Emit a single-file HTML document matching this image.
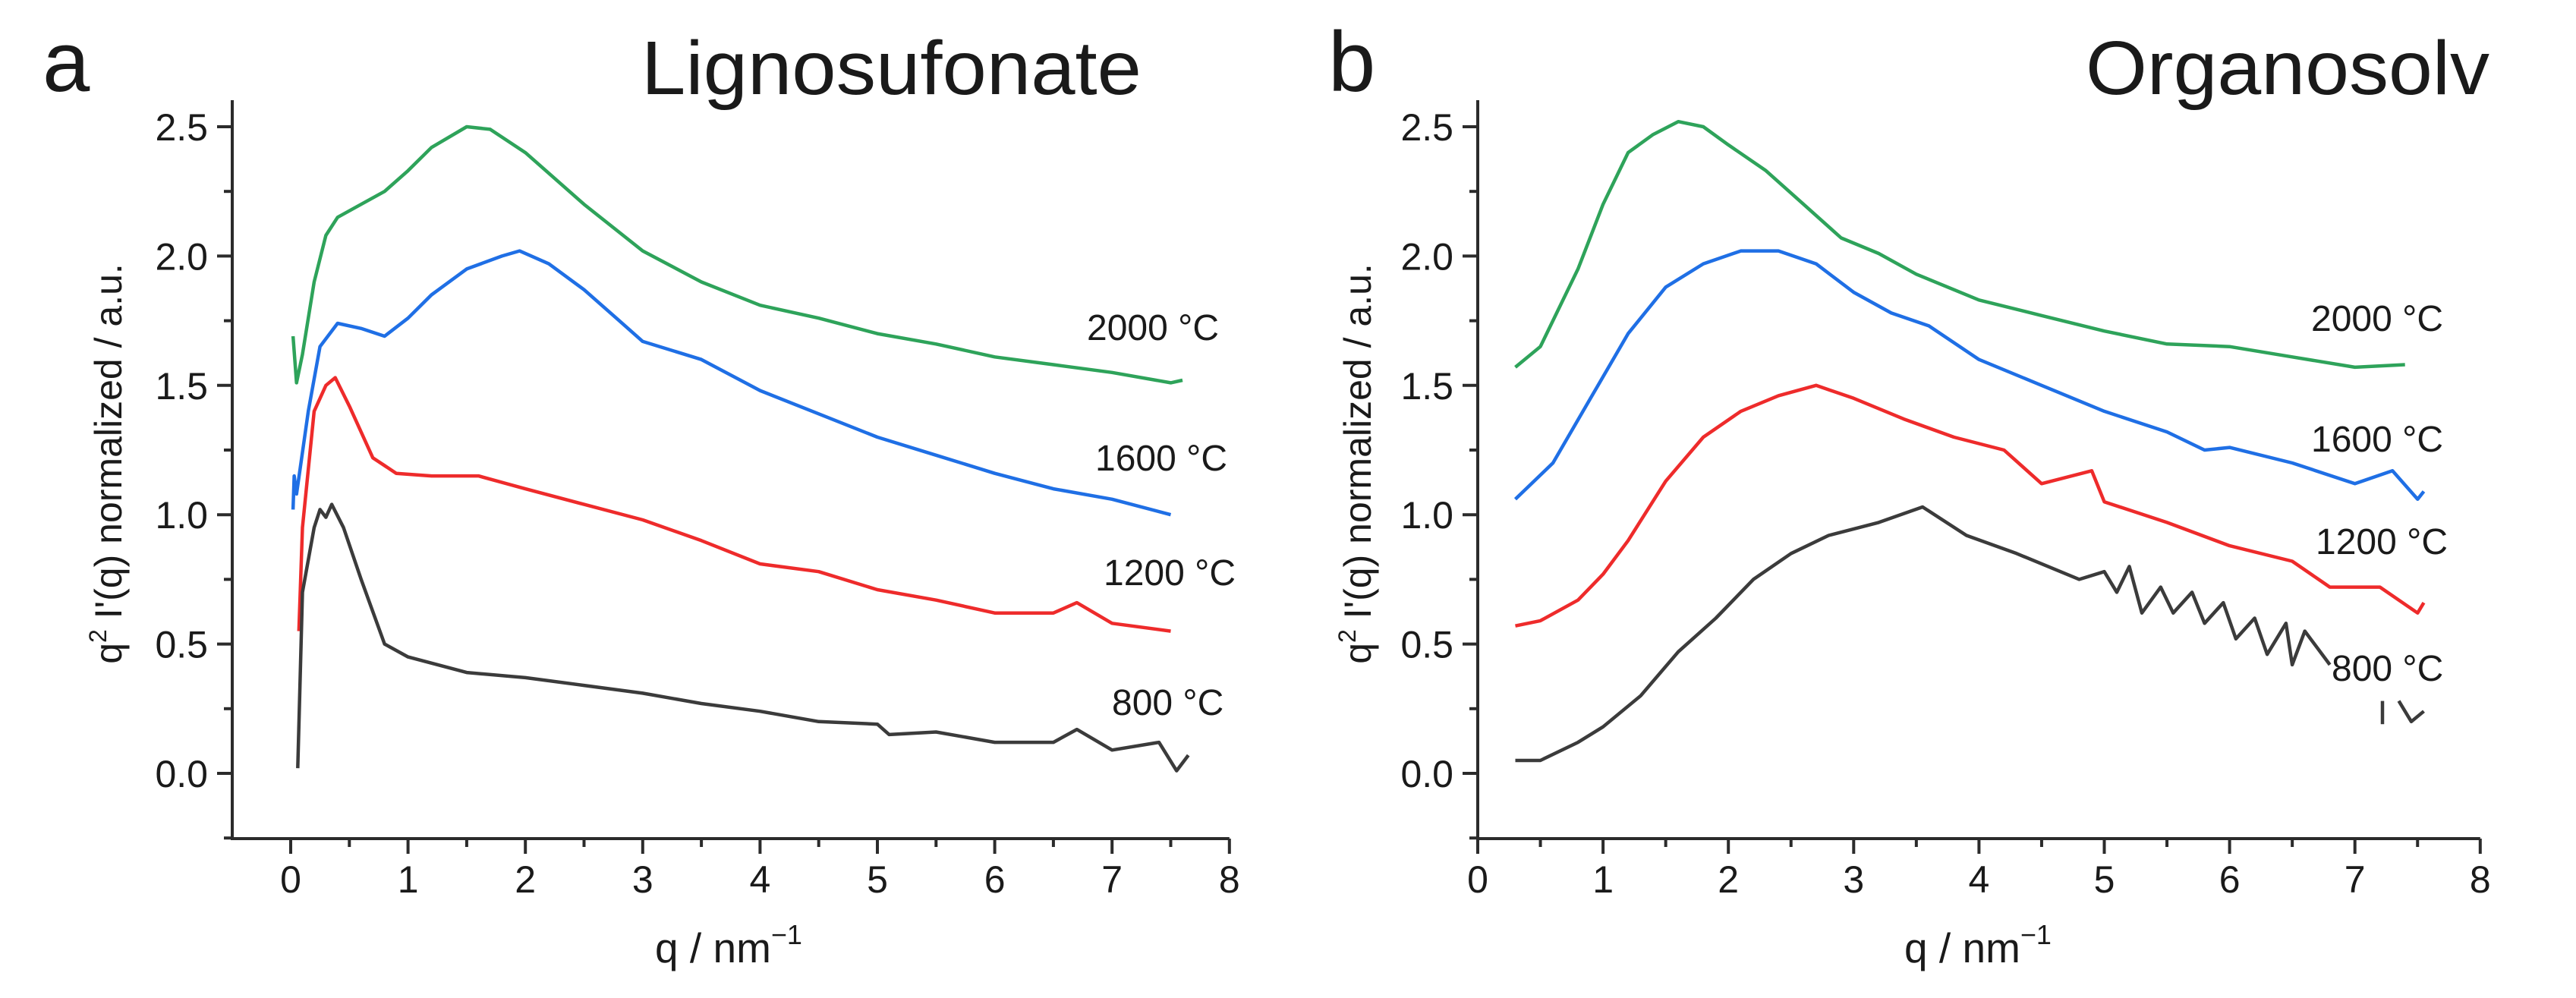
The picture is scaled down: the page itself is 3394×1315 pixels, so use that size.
<!DOCTYPE html>
<html><head><meta charset="utf-8"><style>
html,body{margin:0;padding:0;background:#fff;}
svg{display:block;}
text{font-family:"Liberation Sans",sans-serif;fill:#1a1a1a;}
</style></head><body>
<svg id="fig" width="3394" height="1315" viewBox="0 0 3394 1315"></svg>
<script>
// ---- Panel a data (Lignosufonate) ----
const aQ2000=[0.02,0.05,0.1,0.2,0.3,0.4,0.6,0.8,1.0,1.2,1.5,1.7,2.0,2.5,3.0,3.5,4.0,4.5,5.0,5.5,6.0,6.5,7.0,7.5,7.6];
const aV2000=[1.69,1.51,1.62,1.9,2.08,2.15,2.2,2.25,2.33,2.42,2.5,2.49,2.4,2.2,2.02,1.9,1.81,1.76,1.7,1.66,1.61,1.58,1.55,1.51,1.52];
const aQ1600=[0.02,0.03,0.05,0.15,0.25,0.4,0.6,0.8,1.0,1.2,1.5,1.8,1.95,2.2,2.5,2.8,3.0,3.5,4.0,4.5,5.0,5.5,6.0,6.5,7.0,7.5];
const aV1600=[1.02,1.15,1.08,1.4,1.65,1.74,1.72,1.69,1.76,1.85,1.95,2.0,2.02,1.97,1.87,1.75,1.67,1.6,1.48,1.39,1.3,1.23,1.16,1.1,1.06,1.0];
const aQ1200=[0.07,0.1,0.2,0.3,0.38,0.5,0.7,0.9,1.2,1.6,2.0,2.5,3.0,3.5,4.0,4.5,5.0,5.5,6.0,6.5,6.7,7.0,7.5];
const aV1200=[0.55,0.95,1.4,1.5,1.53,1.42,1.22,1.16,1.15,1.15,1.1,1.04,0.98,0.9,0.81,0.78,0.71,0.67,0.62,0.62,0.66,0.58,0.55];
const aQ800=[0.06,0.1,0.2,0.25,0.3,0.35,0.45,0.6,0.8,1.0,1.5,2.0,2.5,3.0,3.5,4.0,4.5,5.0,5.1,5.5,6.0,6.5,6.7,7.0,7.4,7.55,7.65];
const aV800=[0.02,0.7,0.95,1.02,0.99,1.04,0.95,0.75,0.5,0.45,0.39,0.37,0.34,0.31,0.27,0.24,0.2,0.19,0.15,0.16,0.12,0.12,0.17,0.09,0.12,0.01,0.07];
// ---- Panel b data (Organosolv) ----
const bQ2000=[0.3,0.5,0.8,1.0,1.2,1.4,1.6,1.8,2.0,2.3,2.6,2.9,3.2,3.5,4.0,4.5,5.0,5.5,6.0,6.5,7.0,7.4];
const bV2000=[1.57,1.65,1.95,2.2,2.4,2.47,2.52,2.5,2.43,2.33,2.2,2.07,2.01,1.93,1.83,1.77,1.71,1.66,1.65,1.61,1.57,1.58];
const bQ1600=[0.3,0.6,0.9,1.2,1.5,1.8,2.1,2.4,2.7,3.0,3.3,3.6,4.0,4.5,5.0,5.5,5.8,6.0,6.5,7.0,7.3,7.5,7.55];
const bV1600=[1.06,1.2,1.45,1.7,1.88,1.97,2.02,2.02,1.97,1.86,1.78,1.73,1.6,1.5,1.4,1.32,1.25,1.26,1.2,1.12,1.17,1.06,1.09];
const bQ1200=[0.3,0.5,0.8,1.0,1.2,1.5,1.8,2.1,2.4,2.7,3.0,3.4,3.8,4.2,4.5,4.9,5.0,5.5,6.0,6.5,6.8,7.2,7.5,7.55];
const bV1200=[0.57,0.59,0.67,0.77,0.9,1.13,1.3,1.4,1.46,1.5,1.45,1.37,1.3,1.25,1.12,1.17,1.05,0.97,0.88,0.82,0.72,0.72,0.62,0.66];
const bQ800=[0.3,0.5,0.8,1.0,1.3,1.6,1.9,2.2,2.5,2.8,3.2,3.55,3.9,4.3,4.8,5.0,5.1,5.2,5.3,5.45,5.55,5.7,5.8,5.95,6.05,6.2,6.3,6.45,6.5,6.6,6.8];
const bV800=[0.05,0.05,0.12,0.18,0.3,0.47,0.6,0.75,0.85,0.92,0.97,1.03,0.92,0.85,0.75,0.78,0.70,0.80,0.62,0.72,0.62,0.70,0.58,0.66,0.52,0.60,0.46,0.58,0.42,0.55,0.42];
const bQ800tail=[7.35,7.45,7.55];
const bV800tail=[0.28,0.2,0.24];
const bQ800tail0=[7.22,7.22];
const bV800tail0=[0.28,0.19];
// ---- ticks ----
const aXTicks=[0,1,2,3,4,5,6,7,8];
const bXTicks=[0,1,2,3,4,5,6,7,8];
const yTicks=[0.0,0.5,1.0,1.5,2.0,2.5];

const NS='http://www.w3.org/2000/svg';
const svg=document.getElementById('fig');
function mk(tag,attrs,parent){const e=document.createElementNS(NS,tag);for(const k in attrs)e.setAttribute(k,attrs[k]);(parent||svg).appendChild(e);return e;}
const Y0=1019, YPER=340.8;
function yS(v){return Y0-v*YPER;}
const yTop=132, yBot=1105;
const COL={g:'#2ea35a',b:'#1f6fe5',r:'#ee2b2b',k:'#3b3b3b'};

function panel(cfg){
  const g=mk('g',{});
  
  
  const xS=v=>cfg.x0+(v-cfg.xmin)*cfg.per;
  const xL=cfg.axX, xR=xS(8);
  const ax=mk('path',{d:`M${xL},${yTop} L${xL},${yBot} L${xR},${yBot}`,fill:'none',stroke:'#2b2b2b','stroke-width':4},g);
  
  
  cfg.xticks.forEach(t=>{
    const l=mk('line',{x1:xS(t),x2:xS(t),y1:yBot,y2:yBot+20,stroke:'#2b2b2b','stroke-width':4},g);
    
    
    const tx=mk('text',{x:xS(t),y:1176,'font-size':50,'text-anchor':'middle'},g);
    tx.textContent=String(t);
    
    
    if(t<8){const m=mk('line',{x1:xS(t+0.5),x2:xS(t+0.5),y1:yBot,y2:yBot+11,stroke:'#2b2b2b','stroke-width':4},g);
      
      }
  });
  if(cfg.xmin<0){const m=mk('line',{x1:xS(-0.5),x2:xS(-0.5),y1:yBot,y2:yBot+11,stroke:'#2b2b2b','stroke-width':4},g);
    
    }
  yTicks.forEach(t=>{
    const l=mk('line',{x1:xL-20,x2:xL,y1:yS(t),y2:yS(t),stroke:'#2b2b2b','stroke-width':4},g);
    
    
    const tx=mk('text',{x:xL-32,y:yS(t)+18,'font-size':50,'text-anchor':'end'},g);
    tx.textContent=t.toFixed(1);
    
    
    const m=mk('line',{x1:xL-11,x2:xL,y1:yS(t-0.25),y2:yS(t-0.25),stroke:'#2b2b2b','stroke-width':4},g);
    
    
  });
  cfg.series.forEach(s=>{
    const d=s.q.map((q,i)=>(i?'L':'M')+xS(q).toFixed(1)+','+yS(s.v[i]).toFixed(1)).join(' ');
    const p=mk('path',{d:d,fill:'none',stroke:s.c,'stroke-width':4.5,'stroke-linejoin':'round'},g);
    
    
  });
  cfg.labels.forEach(L=>{
    const t=mk('text',{x:L[1],y:L[2],'font-size':48},g);
    t.textContent=L[0];
    
    
  });
  const pl=mk('text',{x:cfg.letterX,y:120,'font-size':112},g);
  pl.textContent=cfg.letter;
  
  
  const ti=mk('text',{x:cfg.titleX,y:124,'font-size':100,textLength:cfg.titleW,lengthAdjust:'spacingAndGlyphs'},g);
  ti.textContent=cfg.title;
  
  
  const xt=mk('text',{x:cfg.xtX,y:1268,'font-size':55,'text-anchor':'middle'},g);
  xt.innerHTML='q / nm<tspan font-size="36" dy="-24">−1</tspan>';
  
  
  const yt=mk('text',{x:0,y:0,'font-size':50,'text-anchor':'middle',transform:`translate(${cfg.ytX},611) rotate(-90)`},g);
  yt.innerHTML='q<tspan font-size="32" dy="-20">2</tspan><tspan dy="20"> I\'(q) normalized / a.u.</tspan>';
  
  
}
panel({name:'panel-a-lignosufonate',x0:383,xmin:0,per:154.6,axX:306,xticks:aXTicks,letter:'a',letterX:56,title:'Lignosufonate',titleX:845,titleW:659,xtX:960,ytX:160,
  series:[{q:aQ2000,v:aV2000,c:COL.g,n:'series-2000c'},{q:aQ1600,v:aV1600,c:COL.b,n:'series-1600c'},{q:aQ1200,v:aV1200,c:COL.r,n:'series-1200c'},{q:aQ800,v:aV800,c:COL.k,n:'series-800c'}],
  labels:[['2000 °C',1432,448],['1600 °C',1443,620],['1200 °C',1454,771],['800 °C',1465,942]]});
panel({name:'panel-b-organosolv',x0:1947,xmin:0,per:165.1,axX:1947,xticks:bXTicks,letter:'b',letterX:1750,title:'Organosolv',titleX:2748,titleW:532,xtX:2606,ytX:1806,
  series:[{q:bQ2000,v:bV2000,c:COL.g,n:'series-2000c'},{q:bQ1600,v:bV1600,c:COL.b,n:'series-1600c'},{q:bQ1200,v:bV1200,c:COL.r,n:'series-1200c'},{q:bQ800,v:bV800,c:COL.k,n:'series-800c'},{q:bQ800tail,v:bV800tail,c:COL.k,n:'series-800c-tail'},{q:bQ800tail0,v:bV800tail0,c:COL.k,n:'series-800c-tail'}],
  labels:[['2000 °C',3045,436],['1600 °C',3045,595],['1200 °C',3051,730],['800 °C',3072,897]]});
</script>
</body></html>
